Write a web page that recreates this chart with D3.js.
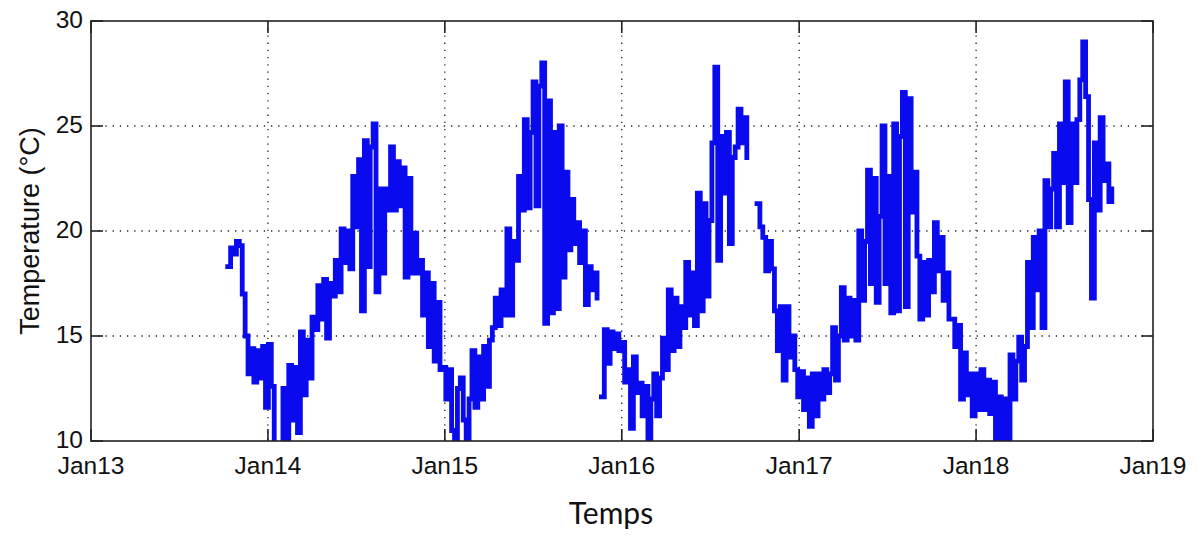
<!DOCTYPE html>
<html lang="en">
<head>
  <meta charset="UTF-8">
  <title>Temperature</title>
  <script src="https://d3js.org/d3.v7.min.js"></script>
  <style>
    body { margin: 0; background: #fff; }
    .tick-label { font-family: "Liberation Sans", Arial, sans-serif; font-size: 24.5px; fill: #111; }
    .ylabel { font-family: "Liberation Sans", Arial, sans-serif; font-size: 27px; fill: #111; }
    .xlabel { font-family: Lato, "Open Sans", sans-serif; font-size: 30px; fill: #111; }
  </style>
</head>
<body>
  <div id="chart"></div>

  <script>
    // x tick dates and labels
    const xTickDates = ["2013-01-01", "2014-01-01", "2015-01-01", "2016-01-01", "2017-01-01", "2018-01-01", "2019-01-01"];
    const xTickLabels = ["Jan13", "Jan14", "Jan15", "Jan16", "Jan17", "Jan18", "Jan19"];
    const yTicks = [10, 15, 20, 25, 30];

    const stepDays = 6;

    const seg1Start = "2013-10-10";
    const seg1Values = [
      18.3, 19.2, 18.9, 19.5, 19.3, 17.0, 15.0, 13.2, 14.4, 12.8,
      14.3, 13.0, 14.5, 11.6, 14.6, 12.6, 9.0, 9.0, 9.3, 12.5,
      9.8, 13.6, 11.0, 13.5, 10.4, 15.2, 12.2, 14.8, 13.0, 15.9,
      15.3, 17.4, 15.8, 17.7, 14.9, 17.5, 16.9, 18.6, 17.1, 20.1,
      18.5, 20.0, 18.2, 22.6, 20.2, 23.4, 16.2, 24.3, 18.3, 24.0,
      25.1, 17.1, 22.0, 18.0, 22.0, 21.0, 24.0, 21.0, 23.3, 21.2,
      23.0, 17.8, 22.5, 18.0, 19.9, 18.0, 18.6, 16.0, 18.0, 14.5,
      17.5, 13.8, 16.6, 13.4, 13.5, 12.0, 13.4, 10.5, 9.5, 12.5,
      13.0, 11.0, 9.5, 12.0, 14.3, 11.6, 14.0, 12.0, 14.5, 12.6,
      14.8, 15.4, 16.8, 15.5, 17.2, 16.0, 20.1, 16.0, 19.5, 18.6,
      22.6, 21.0, 25.3, 21.1, 24.7, 27.1, 21.2, 26.9, 28.0, 15.6,
      26.2, 16.1, 24.7, 16.3, 25.0, 17.8, 22.8, 19.1, 21.5, 19.4,
      20.4, 18.5, 20.0, 16.5, 18.3, 17.2, 18.0, 16.8
    ];

    const seg2Start = "2015-11-20";
    const seg2Values = [
      12.1, 15.3, 13.7, 15.2, 14.4, 15.1, 14.3, 14.7, 12.8, 13.4,
      10.6, 14.0, 12.3, 12.75, 11.2, 12.6, 9.6, 12.0, 13.2, 11.2,
      13.0, 14.9, 13.4, 17.2, 14.3, 16.8, 14.5, 16.4, 15.4, 18.5,
      16.0, 18.0, 15.5, 21.8, 16.2, 21.3, 16.9, 20.5, 24.2, 27.8,
      18.6, 24.5, 21.8, 24.7, 19.4, 23.5, 24.0, 25.8, 24.2, 25.4,
      23.5
    ];

    const seg3Start = "2016-10-06";
    const seg3Values = [
      21.3, 20.2, 19.7, 18.1, 19.5, 18.2, 16.2, 14.3, 16.4, 12.9,
      16.4, 14.0, 15.0, 13.4, 12.1, 13.3, 11.5, 13.0, 10.7, 13.2,
      11.2, 13.2, 12.0, 13.4, 12.3, 13.2, 15.4, 12.9, 15.0, 17.3,
      14.8, 16.8, 15.0, 16.7, 14.8, 20.0, 16.7, 19.5, 22.9, 17.5,
      22.5, 16.6, 20.7, 25.0, 17.5, 22.6, 16.1, 25.1, 16.2, 24.5,
      26.6, 16.4, 26.3, 20.9, 22.8, 18.8, 15.8, 18.5, 16.0, 18.6,
      17.1, 20.4, 18.1, 19.7, 16.7, 18.0, 15.8, 15.8, 14.5, 15.5,
      12.0, 14.2, 12.2, 13.2, 11.2, 13.2, 11.5, 13.4, 11.5, 12.9,
      11.3, 12.8, 9.6, 12.1, 9.5, 12.0, 9.7, 14.1, 12.0, 13.8,
      14.95, 12.9, 14.5, 18.5, 15.4, 19.7, 17.2, 20.0, 15.4, 22.4,
      20.2, 22.0, 23.7, 20.2, 25.1, 22.3, 27.1, 20.4, 25.1, 22.3,
      25.3, 27.2, 29.0, 26.4, 21.5, 16.8, 24.2, 21.0, 25.4, 22.4,
      23.2, 21.4, 22.0
    ];

    const parseDate = d3.timeParse("%Y-%m-%d");

    const margin = { top: 21, right: 43, bottom: 95, left: 91 };
    const width = 1196 - margin.left - margin.right;
    const height = 536 - margin.top - margin.bottom;

    const svg = d3.select("#chart").append("svg")
      .attr("width", 1196)
      .attr("height", 536);

    const g = svg.append("g")
      .attr("transform", `translate(${margin.left},${margin.top})`);

    const x = d3.scaleTime()
      .domain([parseDate(xTickDates[0]), parseDate(xTickDates[xTickDates.length - 1])])
      .range([0, width]);

    const y = d3.scaleLinear()
      .domain([10, 30])
      .range([height, 0]);

    // build the segments
    function toPoints(start, values) {
      const t0 = parseDate(start);
      return values.map((v, i) => ({ date: d3.timeDay.offset(t0, i * stepDays), value: v }));
    }
    const segments = [
      toPoints(seg1Start, seg1Values),
      toPoints(seg2Start, seg2Values),
      toPoints(seg3Start, seg3Values)
    ];

    // dotted grid
    const tickDates = xTickDates.map(parseDate);
    g.selectAll(".grid-x")
      .data(tickDates.slice(1, -1))
      .enter().append("line")
      .attr("x1", d => x(d)).attr("x2", d => x(d))
      .attr("y1", 0).attr("y2", height)
      .attr("stroke", "#222")
      .attr("stroke-width", 1.3)
      .attr("stroke-dasharray", "1.3,5.9");

    g.selectAll(".grid-y")
      .data(yTicks.slice(1, -1))
      .enter().append("line")
      .attr("x1", 0).attr("x2", width)
      .attr("y1", d => y(d)).attr("y2", d => y(d))
      .attr("stroke", "#222")
      .attr("stroke-width", 1.3)
      .attr("stroke-dasharray", "1.3,5.9");

    // clip the line to the axes box
    g.append("clipPath")
      .attr("id", "clip")
      .append("rect")
      .attr("width", width)
      .attr("height", height);

    // blocky steps, like the sampled record
    const line = d3.line()
      .curve(d3.curveStepAfter)
      .x(d => x(d.date))
      .y(d => y(d.value));

    g.append("g")
      .attr("clip-path", "url(#clip)")
      .selectAll("path")
      .data(segments)
      .enter().append("path")
      .attr("d", line)
      .attr("fill", "none")
      .attr("stroke", "#0a0aee")
      .attr("stroke-width", 4.8)
      .attr("stroke-linejoin", "miter")
      .attr("stroke-linecap", "square");

    // inner ticks on all four sides
    const tickLen = 12;
    const tickStyle = sel => sel.attr("stroke", "#222").attr("stroke-width", 1.6);

    g.selectAll(".tick-b")
      .data(tickDates)
      .enter().append("line")
      .attr("x1", d => x(d)).attr("x2", d => x(d))
      .attr("y1", height).attr("y2", height - tickLen)
      .call(tickStyle);
    g.selectAll(".tick-t")
      .data(tickDates)
      .enter().append("line")
      .attr("x1", d => x(d)).attr("x2", d => x(d))
      .attr("y1", 0).attr("y2", tickLen)
      .call(tickStyle);
    g.selectAll(".tick-l")
      .data(yTicks)
      .enter().append("line")
      .attr("x1", 0).attr("x2", tickLen)
      .attr("y1", d => y(d)).attr("y2", d => y(d))
      .call(tickStyle);
    g.selectAll(".tick-r")
      .data(yTicks)
      .enter().append("line")
      .attr("x1", width).attr("x2", width - tickLen)
      .attr("y1", d => y(d)).attr("y2", d => y(d))
      .call(tickStyle);

    // box
    g.append("rect")
      .attr("width", width)
      .attr("height", height)
      .attr("fill", "none")
      .attr("stroke", "#222")
      .attr("stroke-width", 1.6);

    // tick labels
    g.selectAll(".xt")
      .data(tickDates)
      .enter().append("text")
      .attr("class", "tick-label")
      .attr("x", d => x(d))
      .attr("y", height + 33)
      .attr("text-anchor", "middle")
      .text((d, i) => xTickLabels[i]);

    g.selectAll(".yt")
      .data(yTicks)
      .enter().append("text")
      .attr("class", "tick-label")
      .attr("x", -8)
      .attr("y", d => y(d) + 7)
      .attr("text-anchor", "end")
      .text(d => d);

    // axis titles
    svg.append("text")
      .attr("class", "ylabel")
      .attr("transform", `translate(39,${margin.top + height / 2}) rotate(-90)`)
      .attr("text-anchor", "middle")
      .text("Temperature (°C)");

    svg.append("text")
      .attr("class", "xlabel")
      .attr("x", 611)
      .attr("y", 524)
      .attr("text-anchor", "middle")
      .text("Temps");
  </script>
</body>
</html>
